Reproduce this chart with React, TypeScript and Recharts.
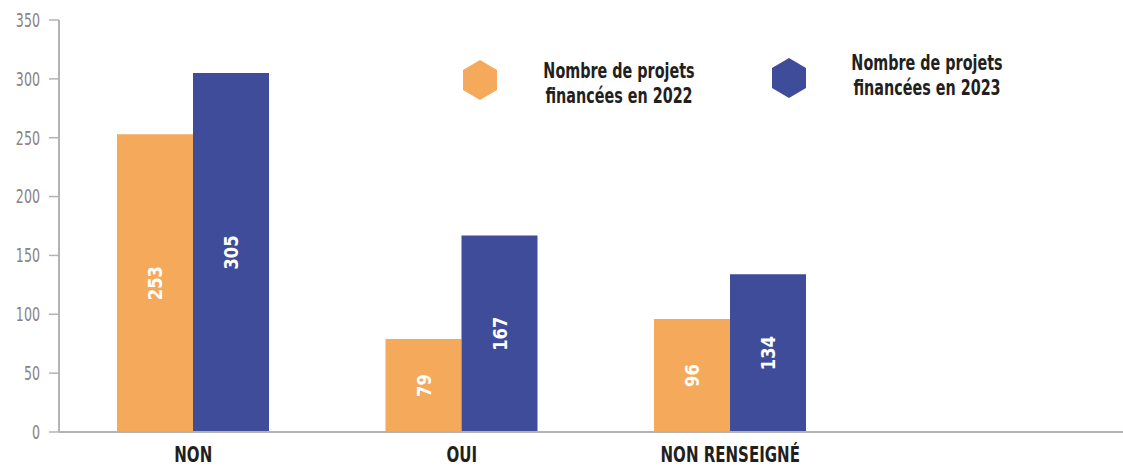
import React from "react";
import {
  BarChart,
  Bar,
  XAxis,
  YAxis,
  Legend,
  LabelList,
} from "recharts";

const categories = ["NON", "OUI", "NON RENSEIGNÉ", ""];
const projets2022 = [253, 79, 96, null];
const projets2023 = [305, 167, 134, null];
const yTicks = [0, 50, 100, 150, 200, 250, 300, 350];
const legendLabels = [
  ["Nombre de projets", "financées en 2022"],
  ["Nombre de projets", "financées en 2023"],
];

const COLORS = {
  y2022: "#F5A95B",
  y2023: "#3E4C9A",
  text: "#231f20",
  tick: "#8c8282",
  axis: "#b3b3b3",
};

const data = categories.map((name, i) => ({
  name,
  v2022: projets2022[i],
  v2023: projets2023[i],
}));

const CONDENSED = "'DejaVu Sans Condensed', 'DejaVu Sans', sans-serif";

// narrow the available fonts horizontally to get the condensed look
function YTick(props: any) {
  const { x, y, payload } = props;
  return (
    <text
      transform={`translate(${x} ${y}) scale(0.74 1)`}
      textAnchor="end"
      dominantBaseline="central"
      fill={COLORS.tick}
      fontFamily={CONDENSED}
      fontSize={19}
    >
      {payload.value}
    </text>
  );
}

function XTick(props: any) {
  const { x, y, payload } = props;
  if (!payload.value) return null;
  return (
    <text
      transform={`translate(${x} ${y + 30}) scale(0.76 1)`}
      textAnchor="middle"
      fill={COLORS.text}
      fontFamily={CONDENSED}
      fontWeight={700}
      fontSize={22}
    >
      {payload.value}
    </text>
  );
}

function ValueLabel(props: any) {
  const { x, y, width, height, value } = props;
  if (value == null) return null;
  const cx = Number(x) + Number(width) / 2;
  const cy = Number(y) + Number(height) / 2;
  return (
    <text
      transform={`translate(${cx} ${cy}) rotate(-90) scale(0.82 1)`}
      textAnchor="middle"
      dominantBaseline="central"
      fill="#ffffff"
      fontFamily="'DejaVu Sans', sans-serif"
      fontWeight={700}
      fontSize={20}
    >
      {value}
    </text>
  );
}

function Hexagon({ color }: { color: string }) {
  return (
    <svg width={36} height={42} viewBox="0 0 36 42">
      <polygon points="18,1 35,11 35,31 18,41 1,31 1,11" fill={color} />
    </svg>
  );
}

function CustomLegend() {
  const items = [
    { color: COLORS.y2022, hx: 480, hy: 80, tx: 619, ty: 59 },
    { color: COLORS.y2023, hx: 789, hy: 78, tx: 927, ty: 51 },
  ];
  return (
    <div style={{ position: "relative", width: 1123, height: 130 }}>
      {items.map((it, i) => (
        <React.Fragment key={i}>
          <div style={{ position: "absolute", left: it.hx - 18, top: it.hy - 21 }}>
            <Hexagon color={it.color} />
          </div>
          <div
            style={{
              position: "absolute",
              left: it.tx - 150,
              top: it.ty,
              width: 300,
              textAlign: "center",
              fontFamily: CONDENSED,
              fontWeight: 700,
              fontSize: 21,
              lineHeight: "25px",
              color: COLORS.text,
              whiteSpace: "nowrap",
              transform: "scaleX(0.76)",
            }}
          >
            {legendLabels[i][0]}
            <br />
            {legendLabels[i][1]}
          </div>
        </React.Fragment>
      ))}
    </div>
  );
}

export default function App() {
  return (
    <div
      style={{
        position: "absolute",
        top: 0,
        left: 0,
        width: 1123,
        height: 467,
        overflow: "hidden",
        background: "#fff",
      }}
    >
      <BarChart
        width={1133}
        height={467}
        data={data}
        margin={{ top: 20, right: 0, left: 0, bottom: 0 }}
        barGap={0}
        barSize={76}
      >
        <XAxis
          dataKey="name"
          height={35}
          axisLine={{ stroke: COLORS.axis, strokeWidth: 2 }}
          tickLine={false}
          tickSize={0}
          tickMargin={0}
          tick={<XTick />}
          interval={0}
        />
        <YAxis
          width={59}
          domain={[0, 350]}
          ticks={yTicks}
          interval={0}
          axisLine={{ stroke: COLORS.axis, strokeWidth: 2 }}
          tickLine={{ stroke: COLORS.axis, strokeWidth: 1.5 }}
          tickSize={10}
          tickMargin={9}
          tick={<YTick />}
        />
        <Legend
          verticalAlign="middle"
          align="center"
          layout="horizontal"
          wrapperStyle={{ top: 0, left: 0, width: 1123, height: 130, pointerEvents: "none" }}
          content={() => <CustomLegend />}
        />
        <Bar dataKey="v2022" fill={COLORS.y2022} isAnimationActive={false}>
          <LabelList dataKey="v2022" content={ValueLabel} />
        </Bar>
        <Bar dataKey="v2023" fill={COLORS.y2023} isAnimationActive={false}>
          <LabelList dataKey="v2023" content={ValueLabel} />
        </Bar>
      </BarChart>
    </div>
  );
}
